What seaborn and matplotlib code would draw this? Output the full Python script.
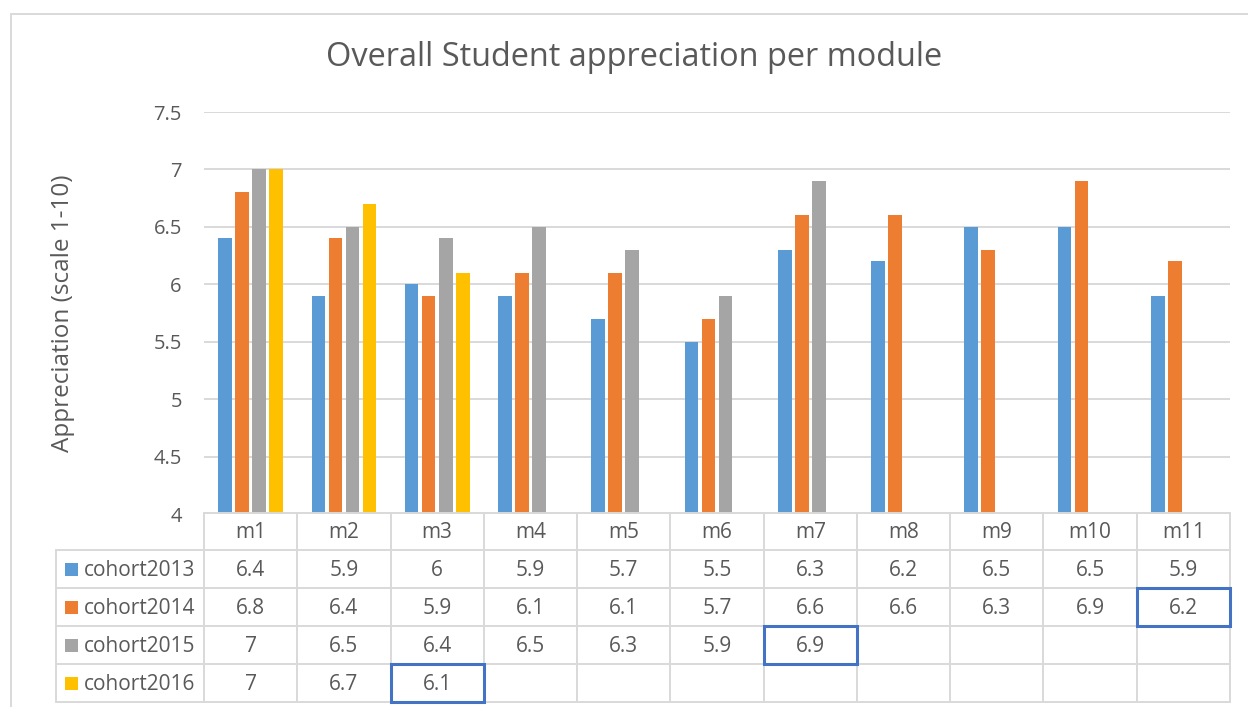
import numpy as np
import pandas as pd
import matplotlib
matplotlib.use("Agg")
import matplotlib.pyplot as plt
from matplotlib.patches import Rectangle
from matplotlib.lines import Line2D
import seaborn as sns

# ---------------- data ----------------
modules = ["m1", "m2", "m3", "m4", "m5", "m6", "m7", "m8", "m9", "m10", "m11"]
cohorts = ["cohort2013", "cohort2014", "cohort2015", "cohort2016"]
cohort2013 = [6.4, 5.9, 6, 5.9, 5.7, 5.5, 6.3, 6.2, 6.5, 6.5, 5.9]
cohort2014 = [6.8, 6.4, 5.9, 6.1, 6.1, 5.7, 6.6, 6.6, 6.3, 6.9, 6.2]
cohort2015 = [7, 6.5, 6.4, 6.5, 6.3, 5.9, 6.9, None, None, None, None]
cohort2016 = [7, 6.7, 6.1, None, None, None, None, None, None, None, None]
yticks = [4, 4.5, 5, 5.5, 6, 6.5, 7, 7.5]
highlighted = [("cohort2016", "m3"), ("cohort2015", "m7"), ("cohort2014", "m11")]
title = "Overall Student appreciation per module"
ylabel = "Appreciation (scale 1-10)"

series = dict(zip(cohorts, [cohort2013, cohort2014, cohort2015, cohort2016]))
rows = []
for c in cohorts:
    for m, v in zip(modules, series[c]):
        if v is not None:
            rows.append({"module": m, "cohort": c, "value": v})
df = pd.DataFrame(rows)

colors = ["#5B9BD5", "#ED7D31", "#A5A5A5", "#FFC000"]
text_color = "#595959"
grid_color = "#D9D9D9"
hl_color = "#4472C4"

sns.set_theme(style="white")
plt.rcParams["font.family"] = ["Open Sans", "DejaVu Sans"]

W, H = 1248, 707
fig = plt.figure(figsize=(W / 100, H / 100), dpi=100)
fig.patch.set_facecolor("white")

# plot area in pixels
L, R, T, B = 204, 1230, 112, 514
ax = fig.add_axes([L / W, 1 - B / H, (R - L) / W, (B - T) / H])

sns.barplot(data=df, x="module", y="value", hue="cohort", order=modules,
            hue_order=cohorts, palette=colors, saturation=1, width=0.73, gap=0.2,
            errorbar=None, dodge=True, legend=False, ax=ax, zorder=3,
            linewidth=0)

ax.set_xlim(-0.5, len(modules) - 0.5)
ax.set_ylim(4, 7.5)
ax.set_yticks(yticks)
ax.set_yticklabels([f"{v:g}" for v in yticks], color=text_color, fontsize=14.5)
ax.tick_params(axis="y", length=0, pad=16)
ax.set_xticks([])
ax.set_xlabel("")
ax.set_ylabel("")
for s in ax.spines.values():
    s.set_visible(False)
ax.yaxis.grid(True, color=grid_color, linewidth=1.4, zorder=0)
ax.set_axisbelow(True)


def fx(px):
    return px / W


def fy(py):
    return 1 - py / H


# outer chart border
fig.add_artist(Rectangle((fx(11), fy(720)), fx(1300), fy(14) - fy(720),
                         transform=fig.transFigure, fill=False,
                         edgecolor=grid_color, linewidth=1.4))

fig.text(fx(634), fy(57), title, ha="center", va="center",
         fontsize=23.4, color=text_color)
fig.text(fx(63), fy(313), ylabel, ha="center", va="center", rotation=90,
         fontsize=17.5, color=text_color)

# ---------- data table ----------
col_edges = [ax.transData.transform((i - 0.5, 0))[0] for i in range(len(modules) + 1)]
col_centers = [ax.transData.transform((i, 0))[0] for i in range(len(modules))]
row_tops = [513, 550, 588, 626, 664, 702]
lab_left = 56
tfs = 15
dy = 1.5


def hline(x0, x1, y, color=grid_color, lw=1.4):
    fig.add_artist(Line2D([fx(x0), fx(x1)], [fy(y), fy(y)], transform=fig.transFigure,
                          color=color, linewidth=lw))


def vline(x, y0, y1, color=grid_color, lw=1.4):
    fig.add_artist(Line2D([fx(x), fx(x)], [fy(y0), fy(y1)], transform=fig.transFigure,
                          color=color, linewidth=lw))


hline(col_edges[0], col_edges[-1], row_tops[0])
for y in row_tops[1:]:
    hline(lab_left, col_edges[-1], y)
for x in col_edges:
    vline(x, row_tops[0], row_tops[-1])
vline(lab_left, row_tops[1], row_tops[-1])

# header
hy = (row_tops[0] + row_tops[1]) / 2 + dy
for m, cx in zip(modules, col_centers):
    fig.text(fx(cx), fy(hy), m, ha="center", va="center", fontsize=tfs, color=text_color)

for r, c in enumerate(cohorts):
    y0, y1 = row_tops[r + 1], row_tops[r + 2]
    yc = (y0 + y1) / 2
    fig.add_artist(Rectangle((fx(65), fy(yc + 6.5)), fx(13), fy(yc - 6.5) - fy(yc + 6.5),
                             transform=fig.transFigure, facecolor=colors[r],
                             edgecolor="none"))
    fig.text(fx(84), fy(yc + dy), c, ha="left", va="center", fontsize=tfs, color=text_color)
    for j, v in enumerate(series[c]):
        if v is not None:
            fig.text(fx(col_centers[j]), fy(yc + dy), f"{v:g}", ha="center", va="center",
                     fontsize=tfs, color=text_color)

for c, m in highlighted:
    r = cohorts.index(c)
    j = modules.index(m)
    x0, x1 = col_edges[j], col_edges[j + 1]
    y0, y1 = row_tops[r + 1], row_tops[r + 2]
    fig.add_artist(Rectangle((fx(x0), fy(y1)), fx(x1) - fx(x0), fy(y0) - fy(y1),
                             transform=fig.transFigure, fill=False, zorder=10,
                             edgecolor=hl_color, linewidth=2.2))

fig.savefig("out.png", dpi=100)
